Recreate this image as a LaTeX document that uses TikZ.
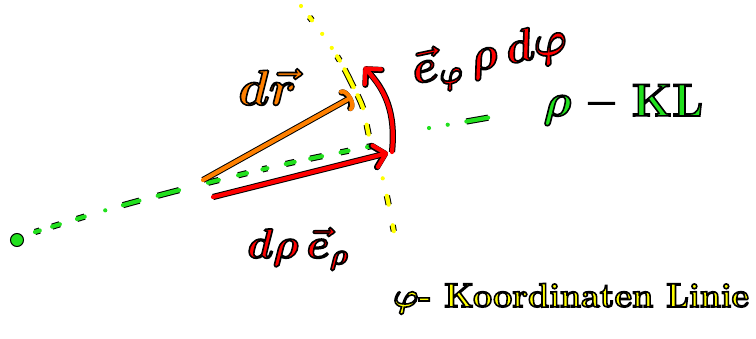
\RequirePackage{fix-cm}
\documentclass[tikz,border=0pt]{standalone}
\usepackage{tikz}
\usetikzlibrary{arrows.meta}
\definecolor{penred}{HTML}{FF0000}
\definecolor{pengreen}{HTML}{22E01E}
\definecolor{penorange}{HTML}{FF8000}
\definecolor{penyellow}{HTML}{FFFF00}
% coloured letters with a black rim
\newcommand\inked[2]{\textcolor{#1}{\special{pdf:literal direct 2 Tr 1.6 w 0 0 0 RG}#2\special{pdf:literal direct 0 Tr}}}

\begin{document}
\begin{tikzpicture}[x=1pt,y=-1pt,
  pen/.style={line width=4.2pt,line cap=round,line join=round,preaction={draw=black,line width=6.2pt,#1},#1},
  pen/.default={},
  hand/.style={inner sep=0pt,font=\fontsize{#1}{#1}\selectfont\bfseries\boldmath}]
\useasboundingbox (0,0) rectangle (756,338);
% phi coordinate line
\draw[pen={dash pattern=on 0pt off 14pt on 4pt off 17pt on 0pt off 17pt on 0pt off 10pt on 5pt off 10pt on 20pt off 9pt on 14pt off 17pt on 10pt off 46pt on 0pt off 18pt on 9pt off 21pt on 6pt off 60pt},penyellow]
  plot[smooth] coordinates {(301,6)(323,35)(340,61)(352,84)(363,108)(370,140)(384,183)(396,243)};
% rho coordinate line
\node[circle,fill=pengreen,draw=black,line width=1pt,minimum size=13pt,inner sep=0pt] (O) at (17,240) {};
\draw[pen={dash pattern=on 5pt off 13pt on 8pt off 18pt on 8pt off 21.5pt on 0pt off 18.5pt on 17pt off 19pt on 22pt off 30pt on 11pt off 20pt on 9pt off 16pt on 5pt off 19pt on 9pt off 16pt on 12pt off 19pt on 8pt off 19pt on 4pt off 50pt},pengreen]
  plot[smooth] coordinates {(35,232)(120,206)(207,183)(290,163)(372,146)};
\coordinate (g1) at (429,128);
\coordinate (g2) at (492,117);
\draw[pen={dash pattern=on 0pt off 19pt on 0pt off 19pt on 22pt off 40pt},pengreen] (g1) -- (g2);
% vectors
\coordinate (r0) at (203,180);
\coordinate (r1) at (352,97);
\coordinate (e0) at (213,197);
\coordinate (e1) at (388,153);
\coordinate (f0) at (392,152);
\coordinate (f1) at (364,67);
\draw[pen,penorange,-{Arc Barb[length=7pt,width=24pt,round]}] (r0) -- (r1);
\draw[pen,penred,-{Straight Barb[length=11pt,width=22pt,round]}] (e0) -- (e1);
\draw[pen,penred,-{Straight Barb[length=11pt,width=22pt,round]}] (f0) .. controls (396,112) and (385,90) .. (f1);
% labels
\node[hand=50,anchor=base west] (dr) at (238,105) {\inked{penorange}{$d\vec r$}};
\node[hand=46,rotate=12] (ephi) at (490,58) {\inked{penred}{$\vec e_\varphi\,\rho\,d\varphi$}};
\node[hand=46,anchor=base west] (rhoKL) at (543,116) {\inked{pengreen}{$\rho$ -- KL}};
\node[hand=42,anchor=base west] (drho) at (247,258) {\inked{penred}{$d\rho\,\vec e_\rho$}};
\node[hand=34,anchor=base west] (phiKL) at (393,307) {\inked{penyellow}{$\varphi$- Koordinaten Linie}};
\end{tikzpicture}
\end{document}
